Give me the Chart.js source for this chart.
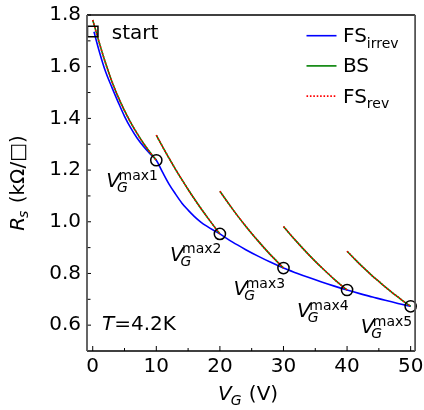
<!DOCTYPE html>
<html><head><meta charset="utf-8">
<script src="https://cdn.jsdelivr.net/npm/chart.js@4.4.1/dist/chart.umd.min.js"></script>
<style>
html,body{margin:0;padding:0;background:#fff;overflow:hidden}
#wrap{width:424px;height:410px}
</style></head><body>
<div id="wrap"><canvas id="c" width="424" height="410"></canvas></div>
<script>
// ---------- data ----------
const xTicks = [0, 10, 20, 30, 40, 50];
const xTickLabels = ['0', '10', '20', '30', '40', '50'];
const xMinorTicks = [5, 15, 25, 35, 45];
const yTicks = [0.6, 0.8, 1.0, 1.2, 1.4, 1.6, 1.8];
const yTickLabels = ['0.6', '0.8', '1.0', '1.2', '1.4', '1.6', '1.8'];
const yMinorTicks = [0.7, 0.9, 1.1, 1.3, 1.5, 1.7];

// FS_irrev (blue)
const fsIrrevV = [0.2,1,2,3,4,5,6,7,8,9,10,11,12,13,14,15,16,17,18,19,20,22,24,26,28,30,32,34,36,38,40,42,44,46,48,50];
const fsIrrevR = [1.735,1.662,1.582,1.521,1.463,1.408,1.362,1.323,1.291,1.263,1.238,1.191,1.146,1.108,1.073,1.045,1.020,0.999,0.982,0.967,0.953,0.921,0.893,0.867,0.843,0.821,0.802,0.784,0.767,0.751,0.736,0.722,0.709,0.696,0.684,0.673];

// BS (green) – five sweeps
const bs1V = [0,1,2,3,4,5,6,7,8,9,10];
const bs1R = [1.781,1.695,1.615,1.544,1.483,1.430,1.383,1.341,1.303,1.269,1.238];
const bs2V = [10,11,12,13,14,15,16,17,18,19,20];
const bs2R = [1.335,1.290,1.246,1.204,1.164,1.125,1.088,1.052,1.018,0.985,0.953];
const bs3V = [20,21,22,23,24,25,26,27,28,29,30];
const bs3R = [1.118,1.083,1.049,1.016,0.985,0.955,0.926,0.898,0.871,0.846,0.821];
const bs4V = [30,31,32,33,34,35,36,37,38,39,40];
const bs4R = [0.982,0.953,0.925,0.898,0.872,0.847,0.823,0.800,0.777,0.756,0.736];
const bs5V = [40,41,42,43,44,45,46,47,48,49,50];
const bs5R = [0.886,0.861,0.836,0.813,0.790,0.769,0.748,0.728,0.709,0.690,0.673];

// FS_rev (red dotted) – coincides with BS in the picture
const fsRev1R = [1.781,1.695,1.615,1.544,1.483,1.430,1.383,1.341,1.303,1.269,1.238];
const fsRev2R = [1.335,1.290,1.246,1.204,1.164,1.125,1.088,1.052,1.018,0.985,0.953];
const fsRev3R = [1.118,1.083,1.049,1.016,0.985,0.955,0.926,0.898,0.871,0.846,0.821];
const fsRev4R = [0.982,0.953,0.925,0.898,0.872,0.847,0.823,0.800,0.777,0.756,0.736];
const fsRev5R = [0.886,0.861,0.836,0.813,0.790,0.769,0.748,0.728,0.709,0.690,0.673];

// V_G^max markers
const vmaxV = [10, 20, 30, 40, 50];
const vmaxR = [1.238, 0.953, 0.821, 0.736, 0.673];
const vmaxLabels = ['max1', 'max2', 'max3', 'max4', 'max5'];

// start marker
const startV = [0];
const startR = [1.736];
const startLabel = 'start';

// legend texts
const legendMain = ['FS', 'BS', 'FS'];
const legendSub = ['irrev', '', 'rev'];

// ---------- styles ----------
const FONT = 'DejaVu Sans';
const BLUE = '#0000ff', GREEN = '#008000', RED = '#ff0000';
const legendColors = [BLUE, GREEN, RED];
const legendDash = [[], [], [1.6, 1.8]];

const pts = (V, R) => V.map((v, i) => ({x: v, y: R[i]}));
const lineDs = (V, R, color, dash) => ({
  data: pts(V, R), showLine: true, borderColor: color, borderWidth: 1.6,
  borderDash: dash, pointRadius: 0, pointHoverRadius: 0,
  cubicInterpolationMode: 'monotone', fill: false
});

const datasets = [
  {data: pts(vmaxV, vmaxR), showLine: false, pointStyle: 'circle', pointRadius: 5.6,
   pointBorderWidth: 1.5, pointBorderColor: '#000', pointBackgroundColor: 'rgba(0,0,0,0)', clip: false},
  {data: pts(startV, startR), showLine: false, pointStyle: 'rect', pointRadius: 7.4,
   pointBorderWidth: 1.5, pointBorderColor: '#000', pointBackgroundColor: 'rgba(0,0,0,0)'},
  lineDs(bs1V, fsRev1R, RED, [1.6, 1.8]),
  lineDs(bs2V, fsRev2R, RED, [1.6, 1.8]),
  lineDs(bs3V, fsRev3R, RED, [1.6, 1.8]),
  lineDs(bs4V, fsRev4R, RED, [1.6, 1.8]),
  lineDs(bs5V, fsRev5R, RED, [1.6, 1.8]),
  lineDs(bs1V, bs1R, GREEN, []),
  lineDs(bs2V, bs2R, GREEN, []),
  lineDs(bs3V, bs3R, GREEN, []),
  lineDs(bs4V, bs4R, GREEN, []),
  lineDs(bs5V, bs5R, GREEN, []),
  lineDs(fsIrrevV, fsIrrevR, BLUE, [])
];

function txt(ctx, s, x, y, size, italic) {
  ctx.font = (italic ? 'italic ' : '') + size + 'px "' + FONT + '"';
  ctx.fillText(s, x, y);
  return ctx.measureText(s).width;
}
function wid(ctx, s, size, italic) {
  ctx.font = (italic ? 'italic ' : '') + size + 'px "' + FONT + '"';
  return ctx.measureText(s).width;
}
function seg(ctx, x1, y1, x2, y2) { ctx.beginPath(); ctx.moveTo(x1, y1); ctx.lineTo(x2, y2); ctx.stroke(); }

const MAIN = 20, SUB = 14;

const overlay = {
  id: 'overlay',
  afterDraw(chart) {
    const {ctx, chartArea: a, scales: {x, y}} = chart;
    ctx.save();
    ctx.fillStyle = '#000'; ctx.strokeStyle = '#000';
    ctx.textAlign = 'left'; ctx.textBaseline = 'alphabetic';
    // inward ticks
    ctx.lineWidth = 1;
    xTicks.forEach(v => { const p = x.getPixelForValue(v); seg(ctx, p, a.bottom, p, a.bottom - 5); });
    xMinorTicks.forEach(v => { const p = x.getPixelForValue(v); seg(ctx, p, a.bottom, p, a.bottom - 3); });
    yTicks.forEach(v => { const p = y.getPixelForValue(v); seg(ctx, a.left, p, a.left + 4, p); });
    yMinorTicks.forEach(v => { const p = y.getPixelForValue(v); seg(ctx, a.left, p, a.left + 3.5, p); });
    // frame
    ctx.lineWidth = 1.3;
    ctx.strokeStyle = '#000';
    seg(ctx, a.left, a.top, a.right, a.top);
    seg(ctx, a.left, a.bottom, a.right, a.bottom);
    ctx.strokeStyle = '#555'; ctx.lineWidth = 1.8;
    seg(ctx, a.left, a.top, a.left, a.bottom);
    seg(ctx, a.right, a.top, a.right, a.bottom);

    // V_G^max labels
    vmaxV.forEach((v, i) => {
      const px = x.getPixelForValue(v) - 50, py = y.getPixelForValue(vmaxR[i]) + 27;
      const w = txt(ctx, 'V', px, py, MAIN, true);
      txt(ctx, 'G', px + w - 3, py + 5, SUB, true);
      txt(ctx, vmaxLabels[i], px + w - 1.5, py - 7.5, SUB, false);
    });

    // start label
    txt(ctx, startLabel, x.getPixelForValue(startV[0]) + 19, y.getPixelForValue(startR[0]) + 7, MAIN, false);

    // T = 4.2K
    const tw = txt(ctx, 'T', 102, 329.5, MAIN, true);
    txt(ctx, '=4.2K', 102 + tw, 329.5, MAIN, false);

    // legend
    legendMain.forEach((m, i) => {
      const ly = 35.7 + i * 30.2;
      ctx.strokeStyle = legendColors[i]; ctx.lineWidth = 1.6; ctx.setLineDash(legendDash[i]);
      seg(ctx, 306.5, ly, 336.5, ly);
      ctx.setLineDash([]);
      const w = txt(ctx, m, 343, ly + 6.5, MAIN, false);
      if (legendSub[i]) txt(ctx, legendSub[i], 343 + w, ly + 12, SUB, false);
    });

    // x-axis title: V_G (V)
    {
      const w1 = wid(ctx, 'V', MAIN, true), w2 = wid(ctx, 'G', SUB, true), w3 = wid(ctx, ' (V)', MAIN, false);
      const cx = (a.left + a.right) / 2 - 3;
      let sx = cx - (w1 + w2 + w3) / 2;
      const by = 400;
      txt(ctx, 'V', sx, by, MAIN, true);
      txt(ctx, 'G', sx + w1 - 1, by + 5, SUB, true);
      txt(ctx, ' (V)', sx + w1 + w2, by, MAIN, false);
    }
    // y-axis title: R_s (kΩ/□)
    {
      ctx.save();
      ctx.translate(23.5, (a.top + a.bottom) / 2);
      ctx.rotate(-Math.PI / 2);
      const w1 = wid(ctx, 'R', MAIN, true), w2 = wid(ctx, 's', SUB, true), w3 = wid(ctx, ' (kΩ/□)', MAIN, false);
      let sx = -(w1 + w2 + w3) / 2;
      txt(ctx, 'R', sx, 0, MAIN, true);
      txt(ctx, 's', sx + w1 - 1, 4, SUB, true);
      txt(ctx, ' (kΩ/□)', sx + w1 + w2, 0, MAIN, false);
      ctx.restore();
    }
    ctx.restore();
  }
};

new Chart(document.getElementById('c'), {
  type: 'scatter',
  data: {datasets},
  options: {
    responsive: false, animation: false, devicePixelRatio: 1,
    layout: {padding: {left: 0, top: 15, right: 3, bottom: 0}},
    plugins: {legend: {display: false}, tooltip: {enabled: false}},
    scales: {
      x: {
        type: 'linear', min: -0.9, max: 50.7,
        grid: {display: false, drawTicks: false}, border: {display: false},
        ticks: {color: '#000', font: {family: FONT, size: MAIN}, padding: 4, maxRotation: 0, autoSkip: false,
                callback: (v) => { const i = xTicks.findIndex(t => Math.abs(t - v) < 1e-6); return i >= 0 ? xTickLabels[i] : ''; }},
        afterBuildTicks: s => { s.ticks = xTicks.map(v => ({value: v})); },
        afterFit: s => { s.height = 59; s.paddingLeft = 0; s.paddingRight = 0; }
      },
      y: {
        type: 'linear', min: 0.5, max: 1.8,
        grid: {display: false, drawTicks: false}, border: {display: false},
        ticks: {color: '#000', font: {family: FONT, size: MAIN}, padding: 6, autoSkip: false,
                callback: (v) => { const i = yTicks.findIndex(t => Math.abs(t - v) < 1e-6); return i >= 0 ? yTickLabels[i] : ''; }},
        afterBuildTicks: s => { s.ticks = yTicks.map(v => ({value: v})); },
        afterFit: s => { s.width = 87; s.paddingTop = 0; s.paddingBottom = 0; }
      }
    }
  },
  plugins: [overlay]
});
</script>
</body></html>
